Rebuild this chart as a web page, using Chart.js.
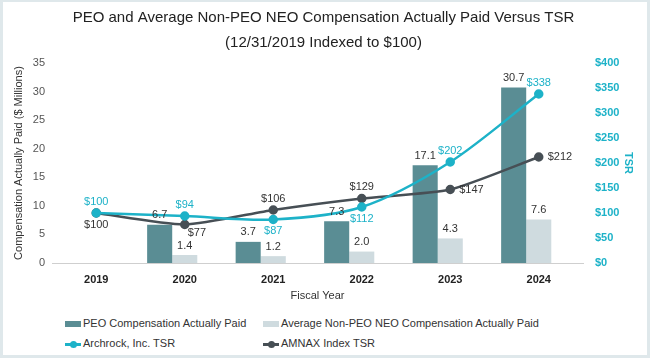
<!DOCTYPE html>
<html>
<head>
<meta charset="utf-8">
<script src="https://cdn.jsdelivr.net/npm/chart.js@4.4.1/dist/chart.umd.min.js"></script>
<style>
  body { margin: 0; background: #fff; font-family: "Liberation Sans", Arial, sans-serif; }
  #wrap { position: relative; width: 650px; height: 358px; overflow: hidden; }
  #frame { position: absolute; left: 0; top: 0; width: 650px; height: 358px; box-sizing: border-box;
           border: 3px solid #dfe8eb; border-top-width: 2px; pointer-events: none; }
  canvas { position: absolute; left: 0; top: 0; }
  .lg { position: absolute; font-size: 11px; color: #333; white-space: nowrap; line-height: 13px; }
  .sw { display: inline-block; width: 16px; vertical-align: middle; margin-right: 2px; position: relative; }
  .bar { height: 6px; }
  .ln { height: 3px; }
  .ln i { position: absolute; left: 5px; top: -2px; width: 7px; height: 7px; border-radius: 50%; }
</style>
</head>
<body>
<div id="wrap">
  <canvas id="cap" width="650" height="306"></canvas>
  <div id="legend"></div>
  <div id="frame"></div>
</div>
<script>
// datos
const years = ['2019', '2020', '2021', '2022', '2023', '2024'];
const peoCap = [null, 6.7, 3.7, 7.3, 17.1, 30.7];
const neoCap = [null, 1.4, 1.2, 2.0, 4.3, 7.6];
const archrockTsr = [100, 94, 87, 112, 202, 338];
const amnaxTsr = [100, 77, 106, 129, 147, 212];
// hueco vacio (como en el original, deja sitio a un tercer grupo)
const gapSeries = years.map(() => null);

// donde va cada etiqueta de las lineas
const archrockPos = ['above', 'above', 'below', 'below', 'above', 'above'];
const amnaxPos = ['below', 'belowRight', 'above', 'above', 'right', 'right'];

const colPeo = '#5a8d94';
const colNeo = '#cfdbdf';
const colArch = '#1db2c8';
const colAmnax = '#474f55';
const font = '"Liberation Sans", Arial, sans-serif';

//etiquetas de valores
const valueLabels = {
  id: 'valueLabels',
  afterDatasetsDraw(chart) {
    const c = chart.ctx;
    c.save();
    c.font = '11px ' + font;
    chart.data.datasets.forEach((ds, i) => {
      const meta = chart.getDatasetMeta(i);
      meta.data.forEach((el, j) => {
        const v = ds.data[j];
        if (v === null || v === undefined) return;
        if (ds.type === 'bar') {
          c.fillStyle = '#333';
          c.textAlign = 'center';
          c.textBaseline = 'bottom';
          c.fillText(v.toFixed(1), el.x, el.y - 4);
          return;
        }
        const pos = ds.labelPos[j];
        c.fillStyle = ds.labelColor;
        let x = el.x, y = el.y;
        if (pos === 'above') { c.textAlign = 'center'; c.textBaseline = 'bottom'; y -= 6; }
        else if (pos === 'below') { c.textAlign = 'center'; c.textBaseline = 'top'; y += 6; }
        else if (pos === 'right') { c.textAlign = 'left'; c.textBaseline = 'middle'; x += 9; }
        else { c.textAlign = 'left'; c.textBaseline = 'top'; x += 3; y += 3; }
        c.fillText('$' + v, x, y);
      });
    });
    c.restore();
  }
};

new Chart(document.getElementById('cap'), {
  data: {
    labels: years,
    datasets: [
      {
        type: 'line', label: 'Archrock, Inc. TSR', data: archrockTsr, yAxisID: 'y1', order: 0,
        borderColor: colArch, backgroundColor: colArch, borderWidth: 2.5, pointRadius: 3.5,
        tension: 0.3, labelPos: archrockPos, labelColor: colArch
      },
      {
        type: 'line', label: 'AMNAX Index TSR', data: amnaxTsr, yAxisID: 'y1', order: 0,
        borderColor: colAmnax, backgroundColor: colAmnax, borderWidth: 2.5, pointRadius: 3.5,
        tension: 0.2, labelPos: amnaxPos, labelColor: '#333'
      },
      {
        type: 'bar', label: 'PEO Compensation Actually Paid', data: peoCap, yAxisID: 'y', order: 1,
        backgroundColor: colPeo, categoryPercentage: 0.85, barPercentage: 1
      },
      {
        type: 'bar', label: 'Average Non-PEO NEO Compensation Actually Paid', data: neoCap, yAxisID: 'y', order: 1,
        backgroundColor: colNeo, categoryPercentage: 0.85, barPercentage: 1
      },
      {
        type: 'bar', label: '', data: gapSeries, yAxisID: 'y', order: 1,
        backgroundColor: 'rgba(0,0,0,0)', categoryPercentage: 0.85, barPercentage: 1
      }
    ]
  },
  options: {
    responsive: false,
    animation: false,
    devicePixelRatio: 1,
    layout: { padding: { left: 3, right: 6, top: 0, bottom: 0 } },
    plugins: {
      legend: { display: false },
      tooltip: { enabled: false },
      title: {
        display: true,
        text: ['PEO and Average Non-PEO NEO Compensation Actually Paid Versus TSR', '(12/31/2019 Indexed to $100)'],
        color: '#222',
        font: { family: font, size: 15, weight: 'normal', lineHeight: 1.667 },
        padding: { top: 5, bottom: 8 }
      }
    },
    scales: {
      x: {
        offset: true,
        grid: { display: false, drawTicks: false },
        border: { display: true, color: '#cfcfcf' },
        ticks: { color: '#222', font: { family: font, size: 11, weight: 'bold' }, padding: 10 },
        title: { display: true, text: 'Fiscal Year', color: '#333', font: { family: font, size: 11 }, padding: { top: 4, bottom: 3 } },
        afterFit(s) { s.height = 43; }
      },
      y: {
        position: 'left',
        min: 0, max: 35,
        grid: { display: false, drawTicks: false },
        border: { display: false },
        ticks: { stepSize: 5, color: '#555', font: { family: font, size: 11 }, padding: 7 },
        title: { display: true, text: 'Compensation Actually Paid ($ Millions)', color: '#333', font: { family: font, size: 11 }, padding: { top: 9, bottom: 0 } },
        afterFit(s) { s.width = 49; }
      },
      y1: {
        position: 'right',
        min: 0, max: 400,
        grid: { display: false, drawTicks: false },
        border: { display: false },
        ticks: { stepSize: 50, color: colArch, font: { family: font, size: 11, weight: 'bold' }, padding: 12, callback: v => '$' + v },
        title: { display: true, text: 'TSR', color: colArch, font: { family: font, size: 11, weight: 'bold' }, padding: { top: 9, bottom: 0 } },
        afterFit(s) { s.width = 61; }
      }
    }
  },
  plugins: [valueLabels]
});

// leyenda en dos columnas
const legendItems = [
  { text: 'PEO Compensation Actually Paid', kind: 'bar', color: colPeo, x: 65, y: 317 },
  { text: 'Average Non-PEO NEO Compensation Actually Paid', kind: 'bar', color: colNeo, x: 263, y: 317 },
  { text: 'Archrock, Inc. TSR', kind: 'ln', color: colArch, x: 65, y: 337 },
  { text: 'AMNAX Index TSR', kind: 'ln', color: colAmnax, x: 263, y: 337 }
];
const lg = document.getElementById('legend');
legendItems.forEach(it => {
  const d = document.createElement('div');
  d.className = 'lg';
  d.style.left = it.x + 'px';
  d.style.top = it.y + 'px';
  const sw = document.createElement('span');
  sw.className = 'sw ' + it.kind;
  sw.style.background = it.color;
  if (it.kind === 'ln') {
    const dot = document.createElement('i');
    dot.style.background = it.color;
    sw.appendChild(dot);
  }
  d.appendChild(sw);
  d.appendChild(document.createTextNode(it.text));
  lg.appendChild(d);
});
</script>
</body>
</html>
